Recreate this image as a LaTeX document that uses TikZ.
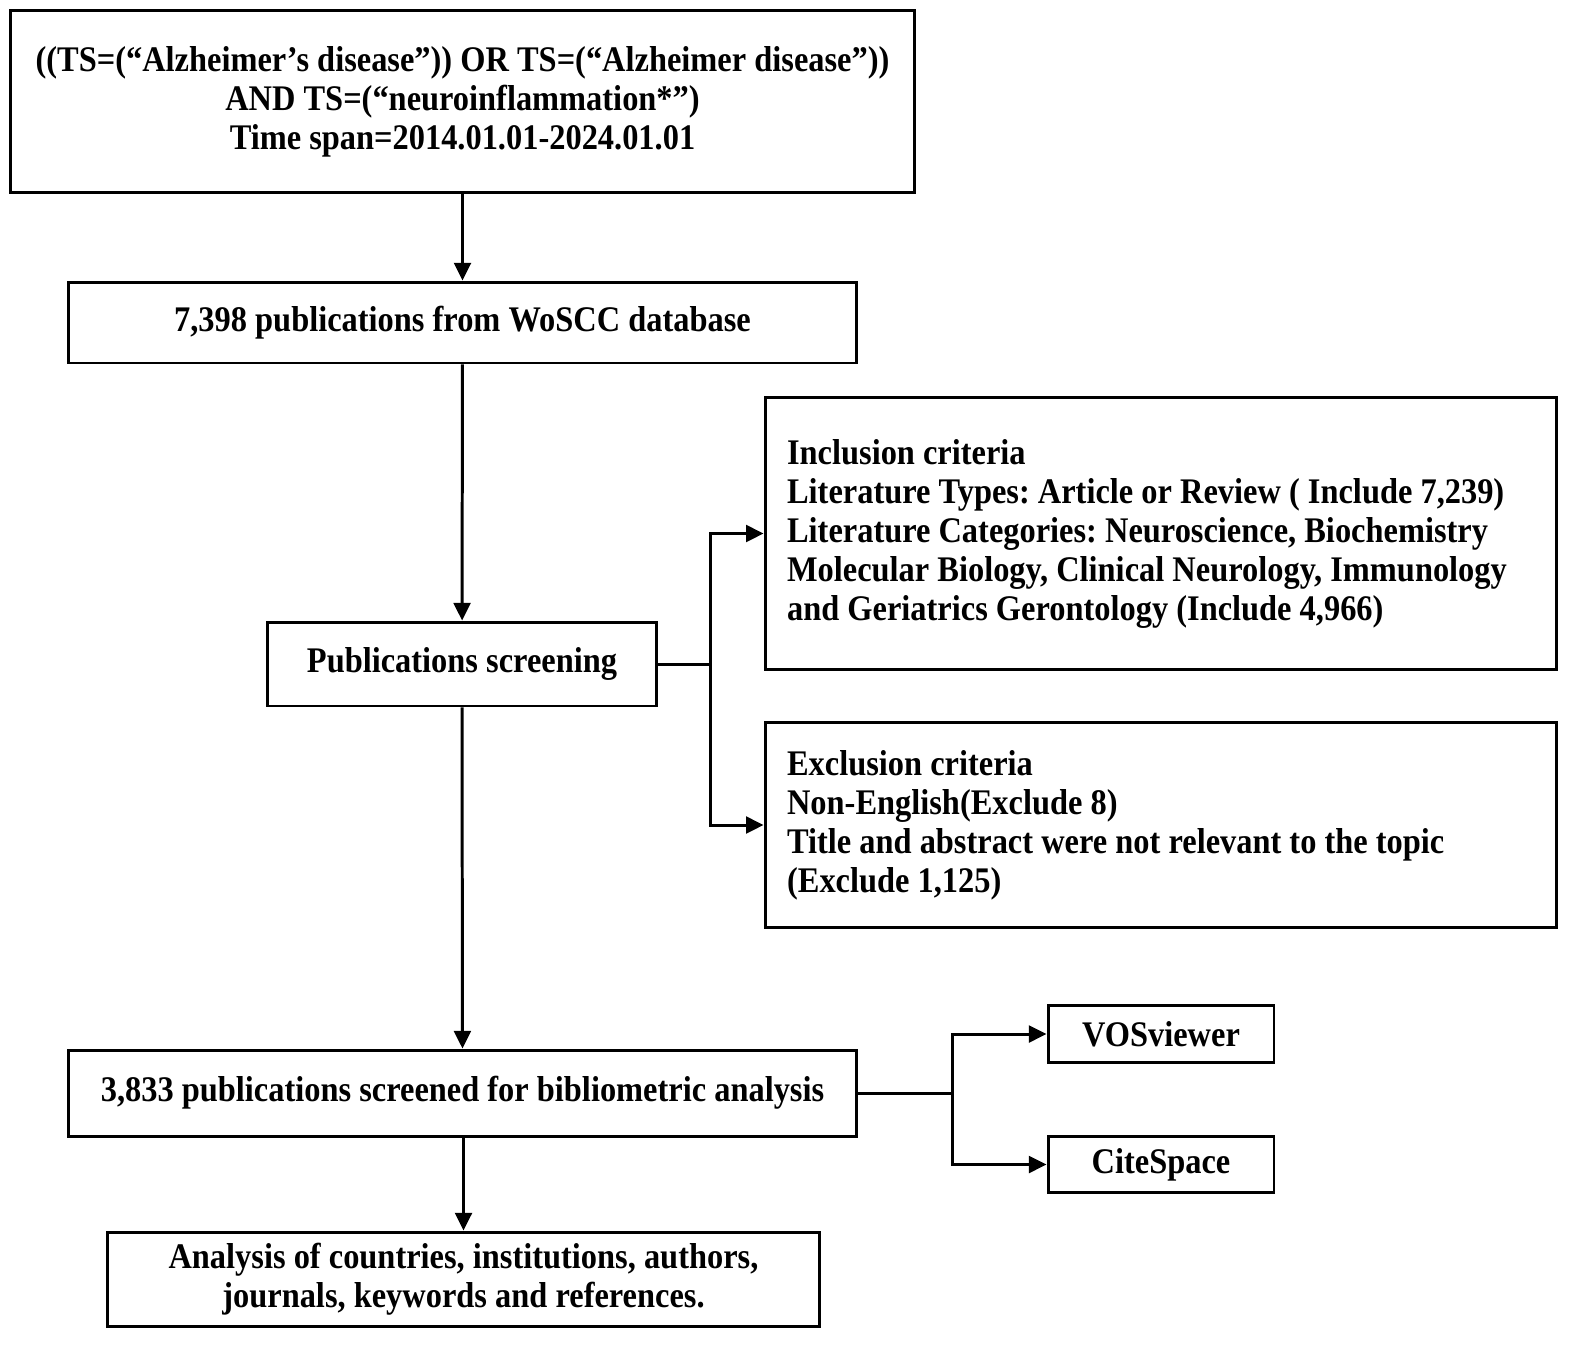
\documentclass[tikz,border=0pt]{standalone}
\usepackage{fontspec}
\setmainfont{Liberation Serif}[FakeStretch=0.9]
\usetikzlibrary{arrows.meta,positioning}
\frenchspacing

\begin{document}
\begin{tikzpicture}
	[
	x=0.02cm, y=-0.02cm,
	block/.style={draw, line width=1.7pt, inner sep=0pt, align=center,
		font=\fontsize{20.5}{22.2}\selectfont\bfseries},
	crit/.style={block, minimum width=15.84cm, text width=14.96cm, align=flush left},
	tool/.style={block, minimum width=4.52cm, minimum height=1.13cm},
	>={Triangle[length=10pt, width=9.5pt]},
	every path/.style={line width=1.7pt}]
	\useasboundingbox (0,0) rectangle (1595,1359);
	\node (query) [block, minimum width=18.1cm, minimum height=3.66cm] at (462.5,101.5)
		{((TS=(“Alzheimer’s disease”)) OR TS=(“Alzheimer disease”))\\
		AND TS=(“neuroinflammation*”)\\
		Time span=2014.01.01-2024.01.01};
	\node (wos) [block, minimum width=15.78cm, minimum height=1.62cm] at (462.5,322.5)
		{7,398 publications from WoSCC database};
	\node (screen) [block, minimum width=7.8cm, minimum height=1.68cm] at (462,664)
		{Publications screening};
	\node (incl) [crit, minimum height=5.46cm] at (1161,533.5)
		{Inclusion criteria\\
		Literature Types: Article or Review ( Include 7,239)\\
		Literature Categories: Neuroscience, Biochemistry\\
		Molecular Biology, Clinical Neurology, Immunology\\
		and Geriatrics Gerontology (Include 4,966)};
	\node (excl) [crit, minimum height=4.12cm] at (1161,825)
		{Exclusion criteria\\
		Non-English(Exclude 8)\\
		Title and abstract were not relevant to the topic\\
		(Exclude 1,125)};
	\node (final) [block, minimum width=15.78cm, minimum height=1.72cm] at (462.5,1093)
		{3,833 publications screened for bibliometric analysis};
	\node (vos) [tool] at (1161,1034) {VOSviewer};
	\node (cite) [tool] at (1161,1164.5) {CiteSpace};
	\node (result) [block, minimum width=14.26cm, minimum height=1.88cm] at (463.5,1279)
		{Analysis of countries, institutions, authors,\\
		journals, keywords and references.};
	\coordinate (split1) at (710,664);
	\coordinate (split2) at (952,1093);
	\draw[->]   (query) -- (wos);
	\draw[->]   (wos) -- (screen);
	\draw       (screen) -- (split1);
	\draw[->]   (split1) |- (incl);
	\draw[->]   (split1) |- (excl);
	\draw[->]   (screen) -- (final);
	\draw       (final) -- (split2);
	\draw[->]   (split2) |- (vos);
	\draw[->]   (split2) |- (cite);
	\draw[->]   (final.south -| result.north) -- (result);
\end{tikzpicture}
\end{document}
